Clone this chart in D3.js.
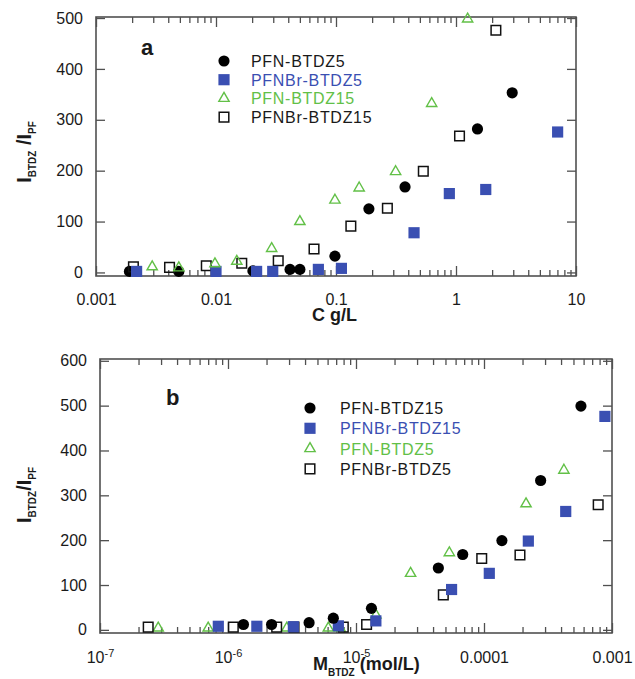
<!DOCTYPE html>
<html>
<head>
<meta charset="utf-8">
<script src="https://cdn.jsdelivr.net/npm/d3@7"></script>
<style>
  body { margin: 0; background: #fff; }
  svg { display: block; }
</style>
</head>
<body>
<svg id="chart" width="635" height="679"></svg>
<script>
// ---------- Panel (a): intensity ratio vs. polymer concentration (g/L) ----------
const aSeriesNames = ["PFN-BTDZ5", "PFNBr-BTDZ5", "PFN-BTDZ15", "PFNBr-BTDZ15"];
const aPFN5_C   = [0.0019, 0.0049, 0.0203, 0.0414, 0.050, 0.098, 0.188, 0.376, 1.51, 2.94];
const aPFN5_R   = [2, 2, 3, 6, 6, 32, 125, 168, 282, 353];
const aPFNBr5_C = [0.00218, 0.0100, 0.0218, 0.0297, 0.0713, 0.111, 0.447, 0.88, 1.77, 7.03];
const aPFNBr5_R = [2, 2, 2, 2, 6, 8, 78, 155, 163, 276];
const aPFN15_C  = [0.00294, 0.0049, 0.0098, 0.0149, 0.0291, 0.050, 0.098, 0.156, 0.314, 0.627, 1.25];
const aPFN15_R  = [11, 9, 17, 22, 47, 100, 142, 166, 198, 332, 498];
const aPFNBr15_C = [0.00205, 0.0041, 0.0083, 0.0164, 0.033, 0.0656, 0.133, 0.268, 0.534, 1.07, 2.15];
const aPFNBr15_R = [11, 10, 13, 18, 23, 46, 91, 126, 199, 268, 476];
const aXTicks = [0.001, 0.01, 0.1, 1, 10];
const aXTickLabels = [["0.001", ""], ["0.01", ""], ["0.1", ""], ["1", ""], ["10", ""]];
const aYTicks = [0, 100, 200, 300, 400, 500];

// ---------- Panel (b): intensity ratio vs. BTDZ molar concentration ----------
const bSeriesNames = ["PFN-BTDZ15", "PFNBr-BTDZ15", "PFN-BTDZ5", "PFNBr-BTDZ5"];
const bPFN15_M   = [1.32e-6, 2.19e-6, 4.3e-6, 6.65e-6, 1.32e-5, 4.4e-5, 6.82e-5, 1.38e-4, 2.77e-4, 5.72e-4];
const bPFN15_R   = [12, 12, 16, 26, 48, 138, 168, 199, 333, 499];
const bPFNBr15_M = [8.4e-7, 1.68e-6, 3.24e-6, 7.28e-6, 1.43e-5, 5.58e-5, 1.1e-4, 2.22e-4, 4.35e-4, 8.8e-4];
const bPFNBr15_R = [8, 8, 7, 9, 20, 90, 126, 198, 264, 476];
const bPFN5_M    = [2.85e-7, 7.0e-7, 2.88e-6, 6.08e-6, 7.5e-6, 1.43e-5, 2.67e-5, 5.36e-5, 2.13e-4, 4.21e-4];
const bPFN5_R    = [4, 4, 4, 4, 4, 33, 126, 172, 281, 356];
const bPFNBr5_M  = [2.38e-7, 1.1e-6, 2.4e-6, 3.28e-6, 7.96e-6, 1.21e-5, 4.81e-5, 9.6e-5, 1.91e-4, 7.8e-4];
const bPFNBr5_R  = [6, 6, 6, 6, 6, 12, 78, 159, 167, 279];
const bXTicks = [1e-7, 1e-6, 1e-5, 1e-4, 1e-3];
const bXTickLabels = [["10", "-7"], ["10", "-6"], ["10", "-5"], ["0.0001", ""], ["0.001", ""]];
const bYTicks = [0, 100, 200, 300, 400, 500, 600];

// ---------- shared styling ----------
const FONT = '"Liberation Sans", Arial, Helvetica, sans-serif';
const INK = "#505050";     // frame and tick colour
const TEXT = "#1a1a1a";
const BLUE = "#3a4fb2";
const GREEN = "#62c047";

const markers = {
  dot:        { type: d3.symbolCircle,   size: 98,  fill: "#000", stroke: "none", sw: 0 },
  blueSquare: { type: d3.symbolSquare,   size: 125, fill: BLUE,   stroke: "none", sw: 0 },
  triangle:   { type: d3.symbolTriangle, size: 46,  fill: "none", stroke: GREEN,  sw: 1.4 },
  openSquare: { type: d3.symbolSquare,   size: 92,  fill: "none", stroke: "#111", sw: 1.5 }
};

const svg = d3.select("#chart").attr("font-family", FONT);

function drawMarker(sel, kind) {
  const m = markers[kind];
  return sel.attr("d", d3.symbol().type(m.type).size(m.size)())
    .attr("fill", m.fill).attr("stroke", m.stroke).attr("stroke-width", m.sw);
}

function styleAxis(g) {
  g.attr("font-family", FONT).attr("font-size", 16).attr("color", INK);
  g.select(".domain").remove();
  g.selectAll(".tick line").attr("stroke-width", 1.3);
  g.selectAll(".tick text").attr("fill", TEXT);
}

function drawPanel(p) {
  const x = d3.scaleLog().domain(p.xDomain).range([p.left, p.right]);
  const y = d3.scaleLinear().domain(p.yDomain).range([p.bottom, p.top]);
  const g = svg.append("g");

  const isMajor = v => p.xTicks.some(m => Math.abs(m - v) / m < 1e-6);
  const minorTicks = x.ticks().filter(v => !isMajor(v));

  // bottom axis: labelled decades plus inward minor ticks
  const bottomMajor = g.append("g").attr("transform", `translate(0,${p.bottom})`)
    .call(d3.axisBottom(x).tickValues(p.xTicks).tickSize(-10).tickSizeOuter(0)
      .tickPadding(p.xPad).tickFormat((d, i) => p.xLabels[i][0]));
  styleAxis(bottomMajor);
  bottomMajor.selectAll(".tick text").each(function (d, i) {
    if (p.xLabels[i][1]) {
      d3.select(this).append("tspan").attr("dy", "-0.62em").attr("font-size", 11)
        .text(p.xLabels[i][1]);
    }
  });
  styleAxis(g.append("g").attr("transform", `translate(0,${p.bottom})`)
    .call(d3.axisBottom(x).tickValues(minorTicks).tickSize(-6).tickSizeOuter(0).tickFormat("")));

  // mirrored top axis
  styleAxis(g.append("g").attr("transform", `translate(0,${p.top})`)
    .call(d3.axisTop(x).tickValues(p.xTicks).tickSize(-10).tickSizeOuter(0).tickFormat("")));
  styleAxis(g.append("g").attr("transform", `translate(0,${p.top})`)
    .call(d3.axisTop(x).tickValues(minorTicks).tickSize(-6).tickSizeOuter(0).tickFormat("")));

  // left axis with labels, mirrored right axis
  styleAxis(g.append("g").attr("transform", `translate(${p.left},0)`)
    .call(d3.axisLeft(y).tickValues(p.yTicks).tickSize(-9).tickSizeOuter(0).tickPadding(13)
      .tickFormat(d3.format("d"))));
  styleAxis(g.append("g").attr("transform", `translate(${p.right},0)`)
    .call(d3.axisRight(y).tickValues(p.yTicks).tickSize(-9).tickSizeOuter(0).tickFormat("")));

  // frame
  g.append("rect")
    .attr("x", p.left).attr("y", p.top)
    .attr("width", p.right - p.left).attr("height", p.bottom - p.top)
    .attr("fill", "none").attr("stroke", INK).attr("stroke-width", 1.6);

  // data
  p.drawOrder.forEach(k => {
    const s = p.series[k];
    const pts = s.xs.map((v, i) => [v, s.ys[i]]);
    g.append("g").selectAll("path").data(pts).join("path")
      .attr("transform", d => `translate(${x(d[0])},${y(d[1])})`)
      .call(sel => drawMarker(sel, s.marker));
  });

  // legend
  p.series.forEach((s, i) => {
    const cy = p.legend.y0 + i * p.legend.dy;
    g.append("path").attr("transform", `translate(${p.legend.x},${cy})`)
      .call(sel => drawMarker(sel, s.marker));
    g.append("text").attr("x", p.legend.textX).attr("y", cy + 6)
      .attr("font-size", 16).attr("letter-spacing", "0.7px")
      .attr("fill", s.textColor).text(s.name);
  });

  // panel letter
  g.append("text").attr("x", p.letter.x).attr("y", p.letter.y)
    .attr("font-size", 22).attr("font-weight", "bold").attr("fill", TEXT).text(p.letter.text);

  // y title: I_BTDZ / I_PF
  const yt = g.append("text")
    .attr("transform", `translate(${p.yTitle.x},${p.yTitle.y}) rotate(-90)`)
    .attr("text-anchor", "middle").attr("font-weight", "bold").attr("font-size", 20).attr("fill", TEXT);
  yt.append("tspan").text("I");
  yt.append("tspan").attr("font-size", 10).attr("dy", 5).text("BTDZ");
  yt.append("tspan").attr("dy", -5).text(p.yTitle.sep + "/I");
  yt.append("tspan").attr("font-size", 10).attr("dy", 5).text("PF");

  // x title
  const xt = g.append("text").attr("x", p.xTitle.x).attr("y", p.xTitle.y)
    .attr("font-weight", "bold").attr("font-size", 18).attr("fill", TEXT);
  p.xTitle.parts.forEach(part => {
    const t = xt.append("tspan").text(part.text);
    if (part.sub) t.attr("font-size", 10).attr("dy", 6);
    if (part.back) t.attr("dy", -6);
  });
}

drawPanel({
  left: 96, right: 576, top: 17, bottom: 276,
  xDomain: [0.001, 10], yDomain: [-7, 502],
  xTicks: aXTicks, xLabels: aXTickLabels, yTicks: aYTicks, xPad: 18,
  series: [
    { name: aSeriesNames[0], xs: aPFN5_C,    ys: aPFN5_R,    marker: "dot",        textColor: TEXT },
    { name: aSeriesNames[1], xs: aPFNBr5_C,  ys: aPFNBr5_R,  marker: "blueSquare", textColor: BLUE },
    { name: aSeriesNames[2], xs: aPFN15_C,   ys: aPFN15_R,   marker: "triangle",   textColor: GREEN },
    { name: aSeriesNames[3], xs: aPFNBr15_C, ys: aPFNBr15_R, marker: "openSquare", textColor: TEXT }
  ],
  drawOrder: [0, 3, 1, 2],
  legend: { x: 224, y0: 61, dy: 18.7, textX: 251 },
  letter: { x: 141, y: 55, text: "a" },
  yTitle: { x: 31, y: 152, sep: " " },
  xTitle: { x: 312, y: 321, parts: [{ text: "C g/L" }] }
});

drawPanel({
  left: 100, right: 612, top: 359, bottom: 633,
  xDomain: [1e-7, 1e-3], yDomain: [-7, 604],
  xTicks: bXTicks, xLabels: bXTickLabels, yTicks: bYTicks, xPad: 19,
  series: [
    { name: bSeriesNames[0], xs: bPFN15_M,   ys: bPFN15_R,   marker: "dot",        textColor: TEXT },
    { name: bSeriesNames[1], xs: bPFNBr15_M, ys: bPFNBr15_R, marker: "blueSquare", textColor: BLUE },
    { name: bSeriesNames[2], xs: bPFN5_M,    ys: bPFN5_R,    marker: "triangle",   textColor: GREEN },
    { name: bSeriesNames[3], xs: bPFNBr5_M,  ys: bPFNBr5_R,  marker: "openSquare", textColor: TEXT }
  ],
  drawOrder: [2, 3, 1, 0],
  legend: { x: 310, y0: 408, dy: 20.3, textX: 340 },
  letter: { x: 166, y: 405, text: "b" },
  yTitle: { x: 31, y: 495, sep: "" },
  xTitle: { x: 313, y: 670, parts: [{ text: "M" }, { text: "BTDZ", sub: true }, { text: " (mol/L)", back: true }] }
});
</script>
</body>
</html>
